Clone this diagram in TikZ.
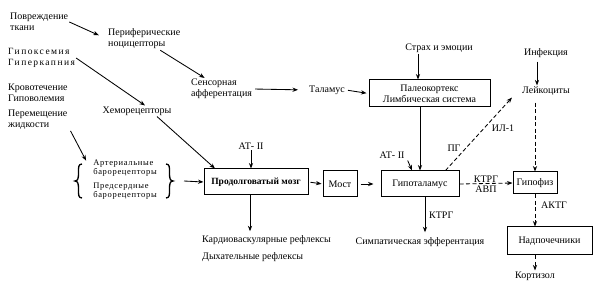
\documentclass[tikz,border=0pt]{standalone}
\usepackage{fontspec}
\setmainfont{Liberation Serif}
\newfontfamily\spaced[LetterSpace=15]{Liberation Serif}
\newfontfamily\spacedb[LetterSpace=8]{Liberation Serif}
\usetikzlibrary{arrows.meta}
\begin{document}
\begin{tikzpicture}[x=1pt,y=-1pt,
  every node/.style={font=\fontsize{10}{11}\selectfont, inner sep=1pt},
  lbl/.style={align=left},
  box/.style={draw, line width=1pt, inner sep=2pt},
  arr/.style={-{Stealth[length=5.5pt,width=4.2pt]}, line width=0.85pt},
  darr/.style={arr, dash pattern=on 4pt off 2.5pt},
  bracepath/.style={line width=1.3pt},
  small/.style={font=\fontsize{8.5}{9}\selectfont\spacedb, align=left}]
\useasboundingbox (0,0) rectangle (600,291);

% left column
\node[lbl, anchor=west] (povr) at (9,22) {Повреждение\\ткани};
\node[lbl, anchor=west] (peri) at (107,39) {Периферические\\ноцицепторы};
\node[lbl, anchor=west] (sens) at (190,89) {Сенсорная\\афферентация};
\node (tal) at (327,90) {Таламус};
\node[lbl, anchor=west, font=\fontsize{9.5}{10.5}\selectfont\spaced] (gipox) at (7,58) {Гипоксемия\\Гиперкапния};
\node[lbl, anchor=west] (krov) at (7,93) {Кровотечение\\Гиповолемия};
\node[lbl, anchor=west] (perem) at (7,120) {Перемещение\\жидкости};
\node (hemo) at (137,111) {Хеморецепторы};

% baroreceptors
\node[small] (art) at (125,168) {Артериальные\\барорецепторы};
\node[small] (pred) at (125,191) {Предсердные\\барорецепторы};
\draw[bracepath] (82,164) .. controls (78,164) and (78.5,168) .. (78.5,173)
  .. controls (78.5,178) and (78,181) .. (75,181)
  .. controls (78,181) and (78.5,184) .. (78.5,189)
  .. controls (78.5,194) and (78,198) .. (82,198);
\draw[bracepath] (166,164) .. controls (170,164) and (169.5,168) .. (169.5,173)
  .. controls (169.5,178) and (170,181) .. (173,181)
  .. controls (170,181) and (169.5,184) .. (169.5,189)
  .. controls (169.5,194) and (170,198) .. (166,198);
\coordinate (rbr) at (184,181);

% boxes
\node[box, minimum width=104, minimum height=26, font=\fontsize{9.5}{11}\selectfont\bfseries] (prod) at (256,182) {Продолговатый мозг};
\node[box, minimum width=34, minimum height=26] (most) at (340,184) {Мост};
\node[box, minimum width=78, minimum height=26] (gipot) at (420,184) {Гипоталамус};
\node[box, minimum width=121, minimum height=27, align=center] (paleo) at (429.5,93.5) {Палеокортекс\\Лимбическая система};
\node[box, minimum width=44, minimum height=22] (gipof) at (535,183) {Гипофиз};
\node[box, minimum width=85, minimum height=28] (nadp) at (549.5,241) {Надпочечники};

% other labels
\node (strah) at (439,48) {Страх и эмоции};
\node (infek) at (546,53) {Инфекция};
\node (leik) at (546,91) {Лейкоциты};
\node (kort) at (535,276) {Кортизол};
\node (at1) at (251,146) {АТ- II};
\node (at2) at (392,155) {АТ- II};
\node (pg) at (454,148) {ПГ};
\node (il) at (503,128) {ИЛ-1};
\node (ktrg) [anchor=south] at (486,183.5) {КТРГ};
\node (avp) [anchor=north] at (486,185) {АВП};
\node (ktrg2) [anchor=west] at (428,215) {КТРГ};
\node (aktg) [anchor=west] at (540,205) {АКТГ};
\node[anchor=west] (kard) at (201,240) {Кардиоваскулярные рефлексы};
\node[anchor=west] (dyh) at (201,257) {Дыхательные рефлексы};
\node (simp) at (420,242) {Симпатическая эфферентация};

% connectors
\draw[arr, shorten >=9pt] (povr.east) -- (peri.west);
\draw[arr] ([xshift=16]peri.south) -- ([xshift=-17]sens.north);
\draw[arr, shorten <=2pt, shorten >=10pt] (sens.east) -- (tal.west);
\draw[arr, shorten <=2pt, shorten >=2pt] (tal.east) -- (paleo.west);
\draw[arr] ([xshift=-21]strah.south) -- ([xshift=-21]strah.south |- paleo.north);
\draw[arr] ([xshift=-9]infek.south) ++(0,3) -- ([xshift=-9]leik.north);
\draw[arr] (gipox.east) -- ([xshift=8]hemo.north);
\draw[arr] ([xshift=20]hemo.south) -- ([xshift=-41]prod.north);
\draw[arr] ([xshift=2]perem.south east) -- ([xshift=-6,yshift=-2]art.north west);
\draw[arr] (rbr) -- (prod.west);
\draw[arr] (at1.south) -- (at1.south |- prod.north);
\draw[arr, shorten >=3pt] ([xshift=-6]prod.south) -- ([xshift=-6]prod.south |- kard.north);
\draw[arr, shorten <=2pt, shorten >=1pt] (prod.east) -- (most.west);
\draw[arr, shorten <=3pt, shorten >=7pt] (most.east) -- (gipot.west);
\draw[arr] (gipot.north |- paleo.south) -- (gipot.north);
\draw[arr] ([xshift=2,yshift=-1]at2.south east) -- ([xshift=-8]gipot.north);
\draw[darr] ([xshift=-14]gipot.north east) -- ([xshift=-9,yshift=-1]leik.south west);
\draw[arr, shorten >=4pt] ([xshift=5]gipot.south) -- ([xshift=5]gipot.south |- simp.north);
\draw[darr] (gipot.east) -- (gipof.west);
\draw[darr] (gipof.north |- leik.south) ++(0,6) -- (gipof.north);
\draw[darr] (gipof.south) -- (gipof.south |- nadp.north);
\draw[darr] (gipof.south |- nadp.south) -- (kort.north);
\end{tikzpicture}
\end{document}
